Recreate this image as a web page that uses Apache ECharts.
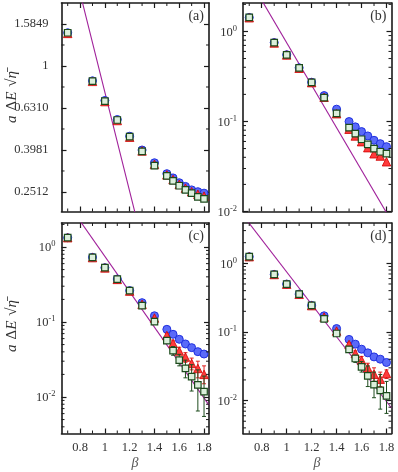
<!DOCTYPE html>
<html><head><meta charset="utf-8">
<script src="https://cdn.jsdelivr.net/npm/echarts@6/dist/echarts.min.js"></script>
<style>html,body{margin:0;padding:0;background:#fff}#c{width:398px;height:472px}</style>
</head><body><div id="c"></div>
<script>
// ---------- data ----------
const beta = [0.7, 0.9, 1.0, 1.1, 1.2, 1.3, 1.4, 1.5, 1.55, 1.6, 1.65, 1.7, 1.75, 1.8];

const aBlue  = [1.44, 0.850, 0.685, 0.556, 0.463, 0.398, 0.346, 0.307, 0.293, 0.278, 0.267, 0.257, 0.252, 0.248];
const aRed   = [1.43, 0.845, 0.677, 0.550, 0.458, 0.394, 0.340, 0.303, 0.288, 0.273, 0.262, 0.252, 0.245, 0.240];
const aGreen = [1.44, 0.848, 0.681, 0.553, 0.461, 0.392, 0.335, 0.300, 0.284, 0.269, 0.257, 0.248, 0.238, 0.233];

const bBlue  = [1.43, 0.752, 0.552, 0.395, 0.273, 0.194, 0.137, 0.0998, 0.0871, 0.0772, 0.0691, 0.0618, 0.0567, 0.0525];
const bRed   = [1.42, 0.745, 0.548, 0.390, 0.270, 0.186, 0.122, 0.0820, 0.0690, 0.0597, 0.0512, 0.0438, 0.0413, 0.0357];
const bGreen = [1.43, 0.750, 0.550, 0.393, 0.272, 0.184, 0.123, 0.0855, 0.0733, 0.0635, 0.0558, 0.0499, 0.0461, 0.0439];

const cBlue  = [1.33, 0.728, 0.530, 0.374, 0.262, 0.181, 0.121, 0.0798, 0.0685, 0.0588, 0.0509, 0.0455, 0.0402, 0.0374];
const cRed   = [1.33, 0.722, 0.526, 0.370, 0.258, 0.172, 0.113, 0.0660, 0.0520, 0.0410, 0.0340, 0.0280, 0.0240, 0.0200];
const cGreen = [1.33, 0.728, 0.530, 0.374, 0.262, 0.165, 0.101, 0.0564, 0.0415, 0.0311, 0.0241, 0.0187, 0.0145, 0.0118];
const cGreenLo = [null, null, null, null, null, null, null, 0.052, 0.036, 0.026, 0.018, 0.012, 0.0065, 0.0055];
const cGreenHi = [null, null, null, null, null, null, null, 0.061, 0.047, 0.037, 0.031, 0.027, 0.023, 0.019];
const cRedLo   = [null, null, null, null, null, null, null, 0.062, 0.048, 0.037, 0.029, 0.023, 0.018, 0.015];
const cRedHi   = [null, null, null, null, null, null, null, 0.070, 0.056, 0.046, 0.039, 0.033, 0.030, 0.026];

const dBlue  = [1.25, 0.690, 0.499, 0.356, 0.244, 0.172, 0.112, 0.0778, 0.0664, 0.0561, 0.0496, 0.0433, 0.0401, 0.0359];
const dRed   = [1.25, 0.688, 0.497, 0.354, 0.242, 0.165, 0.103, 0.0657, 0.0485, 0.0388, 0.0299, 0.0242, 0.0205, 0.0248];
const dGreen = [1.25, 0.690, 0.499, 0.356, 0.244, 0.155, 0.095, 0.0556, 0.0410, 0.0310, 0.0229, 0.0171, 0.0141, 0.0117];
const dGreenLo = [null, null, null, null, null, null, null, 0.052, 0.036, 0.026, 0.016, 0.011, 0.0075, 0.0065];
const dGreenHi = [null, null, null, null, null, null, null, 0.060, 0.046, 0.037, 0.032, 0.026, 0.024, 0.019];
const dRedLo   = [null, null, null, null, null, null, null, 0.062, 0.044, 0.034, 0.025, 0.019, 0.016, 0.021];
const dRedHi   = [null, null, null, null, null, null, null, 0.070, 0.053, 0.044, 0.035, 0.030, 0.026, 0.028];

// purple reference line (endpoints)
const lineBeta = [0.65, 1.84];
const lineVal  = [5.02, 0.0078];

// tick values and labels
const xTicks = [0.8, 1.0, 1.2, 1.4, 1.6, 1.8];
const xTickLabels = ['0.8', '1', '1.2', '1.4', '1.6', '1.8'];
const xMinorTicks = [0.7, 0.9, 1.1, 1.3, 1.5, 1.7];
const aYTicks = [1.5849, 1, 0.6310, 0.3981, 0.2512];
const aYTickLabels = ['1.5849', '1', '0.6310', '0.3981', '0.2512'];
const aYMinorTicks = [1.2589, 0.7943, 0.5012, 0.3162];
const logYTicks = [1, 0.1, 0.01];
const logYTickLabels = ['{n|10}{s|0}', '{n|10}{s|-1}', '{n|10}{s|-2}'];
const panelLetters = ['(a)', '(b)', '(c)', '(d)'];

// ---------- build ----------
const L = v => (v == null ? null : Math.log10(v));
const FONT = 'Liberation Serif';
const TXT = '#333';
const logMinor = [];
for (let e = -3; e <= 0; e++) for (let k = 2; k <= 9; k++) logMinor.push(k * Math.pow(10, e));

const panels = [
  {grid: {left: 61.5, top: 3, width: 147.5, height: 208.5}, yMin: -0.693, yMax: 0.3,
   blue: aBlue, red: aRed, green: aGreen, yTicks: aYTicks, yLabels: aYTickLabels, yMinor: aYMinorTicks, xLab: false, lm: 13},
  {grid: {left: 243, top: 3, width: 148.5, height: 208.5}, yMin: -2.0, yMax: 0.316,
   blue: bBlue, red: bRed, green: bGreen, yTicks: logYTicks, yLabels: logYTickLabels, yMinor: logMinor, xLab: false, lm: 6},
  {grid: {left: 61.5, top: 223, width: 147.5, height: 210.5}, yMin: -2.487, yMax: 0.32,
   blue: cBlue, red: cRed, green: cGreen, yTicks: logYTicks, yLabels: logYTickLabels, yMinor: logMinor, xLab: true, lm: 6,
   gLo: cGreenLo, gHi: cGreenHi, rLo: cRedLo, rHi: cRedHi},
  {grid: {left: 243, top: 223, width: 148.5, height: 210.5}, yMin: -2.48, yMax: 0.588,
   blue: dBlue, red: dRed, green: dGreen, yTicks: logYTicks, yLabels: logYTickLabels, yMinor: logMinor, xLab: true, lm: 6,
   gLo: dGreenLo, gHi: dGreenHi, rLo: dRedLo, rHi: dRedHi}
];

const grids = [], xAxes = [], yAxes = [], series = [], graphic = [];
const axisLine = {show: true, onZero: false, lineStyle: {color: '#1a1a1a', width: 1.6}};
const tickStyle = {color: '#1a1a1a', width: 1.2};
const XMIN = 0.65, XMAX = 1.84;

panels.forEach((p, i) => {
  grids.push(Object.assign({show: false, outerBoundsMode: 'none', containLabel: false}, p.grid));
  const xIdx = xAxes.length, yIdx = yAxes.length;
  const xLabelFmt = v => { const k = xTicks.findIndex(t => Math.abs(t - v) < 1e-6); return k >= 0 ? xTickLabels[k] : ''; };
  ['bottom', 'top'].forEach((pos, j) => {
    xAxes.push({
      type: 'value', gridIndex: i, position: pos, min: XMIN, max: XMAX,
      axisLine, splitLine: {show: false},
      axisTick: {show: true, inside: true, length: 5, lineStyle: tickStyle, customValues: xTicks},
      axisLabel: {show: p.xLab && j === 0, customValues: xTicks, formatter: xLabelFmt, margin: 8,
        fontFamily: FONT, fontSize: 12.5, color: TXT}
    });
  });
  const yTickLog = p.yTicks.map(L);
  const yLabelFmt = v => { const k = yTickLog.findIndex(t => Math.abs(t - v) < 1e-6); return k >= 0 ? p.yLabels[k] : ''; };
  ['left', 'right'].forEach((pos, j) => {
    yAxes.push({
      type: 'value', gridIndex: i, position: pos, min: p.yMin, max: p.yMax,
      axisLine, splitLine: {show: false},
      axisTick: {show: true, inside: true, length: 5, lineStyle: tickStyle, customValues: yTickLog},
      axisLabel: {show: j === 0, customValues: yTickLog, formatter: yLabelFmt, margin: p.lm,
        fontFamily: FONT, fontSize: 12.5, color: TXT,
        rich: {n: {fontFamily: FONT, fontSize: 12.5, color: TXT, verticalAlign: 'bottom'},
               s: {fontFamily: FONT, fontSize: 8.5, color: TXT, verticalAlign: 'bottom', padding: [0, 0, 6, 0]}}}
    });
  });
  // minor ticks (decoration) on all four sides
  const minorData = xMinorTicks.map(v => [0, v]).concat(
    p.yMinor.map(L).filter(v => v > p.yMin && v < p.yMax).map(v => [1, v]));
  series.push({
    type: 'custom', xAxisIndex: xIdx, yAxisIndex: yIdx, clip: false, silent: true, z: 5,
    data: minorData, encode: {x: -1, y: -1},
    renderItem: (params, api) => {
      const cs = params.coordSys; const kind = api.value(0), v = api.value(1); const len = 3;
      const st = {stroke: '#1a1a1a', lineWidth: 1};
      if (kind === 0) {
        const x = api.coord([v, p.yMin])[0];
        return {type: 'group', children: [
          {type: 'line', shape: {x1: x, y1: cs.y + cs.height, x2: x, y2: cs.y + cs.height - len}, style: st},
          {type: 'line', shape: {x1: x, y1: cs.y, x2: x, y2: cs.y + len}, style: st}]};
      }
      const y = api.coord([XMIN, v])[1];
      return {type: 'group', children: [
        {type: 'line', shape: {x1: cs.x, y1: y, x2: cs.x + len, y2: y}, style: st},
        {type: 'line', shape: {x1: cs.x + cs.width, y1: y, x2: cs.x + cs.width - len, y2: y}, style: st}]};
    }
  });
  // purple reference line
  series.push({
    type: 'line', xAxisIndex: xIdx, yAxisIndex: yIdx, showSymbol: false, clip: true, z: 2,
    data: lineBeta.map((b, k) => [b, L(lineVal[k])]),
    lineStyle: {color: '#a0209a', width: 1.1}
  });
  const errSeries = (lo, hi, color, z) => ({
    type: 'custom', xAxisIndex: xIdx, yAxisIndex: yIdx, z: z, silent: true,
    data: beta.map((b, k) => [b, L(lo[k]), L(hi[k])]).filter(d => d[1] != null),
    encode: {x: 0, y: [1, 2]},
    renderItem: (params, api) => {
      const x = api.value(0);
      const p1 = api.coord([x, api.value(1)]), p2 = api.coord([x, api.value(2)]);
      const st = {stroke: color, lineWidth: 1}; const c = 2;
      return {type: 'group', children: [
        {type: 'line', shape: {x1: p1[0], y1: p1[1], x2: p2[0], y2: p2[1]}, style: st},
        {type: 'line', shape: {x1: p1[0] - c, y1: p1[1], x2: p1[0] + c, y2: p1[1]}, style: st},
        {type: 'line', shape: {x1: p2[0] - c, y1: p2[1], x2: p2[0] + c, y2: p2[1]}, style: st}]};
    }
  });
  series.push({
    type: 'scatter', xAxisIndex: xIdx, yAxisIndex: yIdx, z: 3, symbol: 'circle', symbolSize: 8,
    data: beta.map((b, k) => [b, L(p.blue[k])]),
    itemStyle: {color: '#5a6af8', borderColor: '#2030e0', borderWidth: 1, opacity: 1}
  });
  if (p.rLo) series.push(errSeries(p.rLo, p.rHi, '#e02020', 4));
  series.push({
    type: 'scatter', xAxisIndex: xIdx, yAxisIndex: yIdx, z: 4, symbol: 'triangle', symbolSize: 8.5,
    data: beta.map((b, k) => [b, L(p.red[k])]),
    itemStyle: {color: '#ff3b3b', borderColor: '#d00000', borderWidth: 0.8, opacity: 1}
  });
  if (p.gLo) series.push(errSeries(p.gLo, p.gHi, '#1f4d1f', 5));
  series.push({
    type: 'scatter', xAxisIndex: xIdx, yAxisIndex: yIdx, z: 6, symbol: 'rect', symbolSize: 6.5,
    data: beta.map((b, k) => [b, L(p.green[k])]),
    itemStyle: {color: '#dcefdc', borderColor: '#1c4a1c', borderWidth: 1.2, opacity: 1}
  });
  graphic.push({type: 'text', right: 398 - (p.grid.left + p.grid.width) + 5, top: p.grid.top + 6, z: 10,
    style: {text: panelLetters[i], fontFamily: FONT, fontSize: 14, fill: TXT}});
});

const yNameRich = {i: {fontFamily: FONT, fontStyle: 'italic', fontSize: 15, fill: TXT, color: TXT},
                   r: {fontFamily: FONT, fontSize: 15, fill: TXT, color: TXT},
                   g: {fontFamily: FONT, fontSize: 15, fill: TXT, color: TXT, padding: [0, 0, 0, 5]}};
const yName = '{i|a}{g|Δ}{i|E}{g|√}{i|η̄}';
[[12, 97], [12, 326]].forEach(([x, y]) => graphic.push({
  type: 'text', x: x, y: y, rotation: Math.PI / 2, z: 10,
  style: {text: yName, rich: yNameRich, fontFamily: FONT, fontSize: 15, fill: TXT, align: 'center', verticalAlign: 'middle'}
}));
[[135, 463], [317, 463]].forEach(([x, y]) => graphic.push({
  type: 'text', x: x, y: y, z: 10,
  style: {text: 'β', fontFamily: FONT, fontStyle: 'italic', fontSize: 14, fill: '#555', align: 'center', verticalAlign: 'middle'}
}));

const chart = echarts.init(document.getElementById('c'), null, {renderer: 'canvas', width: 398, height: 472});
chart.setOption({
  animation: false, backgroundColor: '#fff',
  grid: grids, xAxis: xAxes, yAxis: yAxes, series: series, graphic: graphic
});
</script>
</body></html>
